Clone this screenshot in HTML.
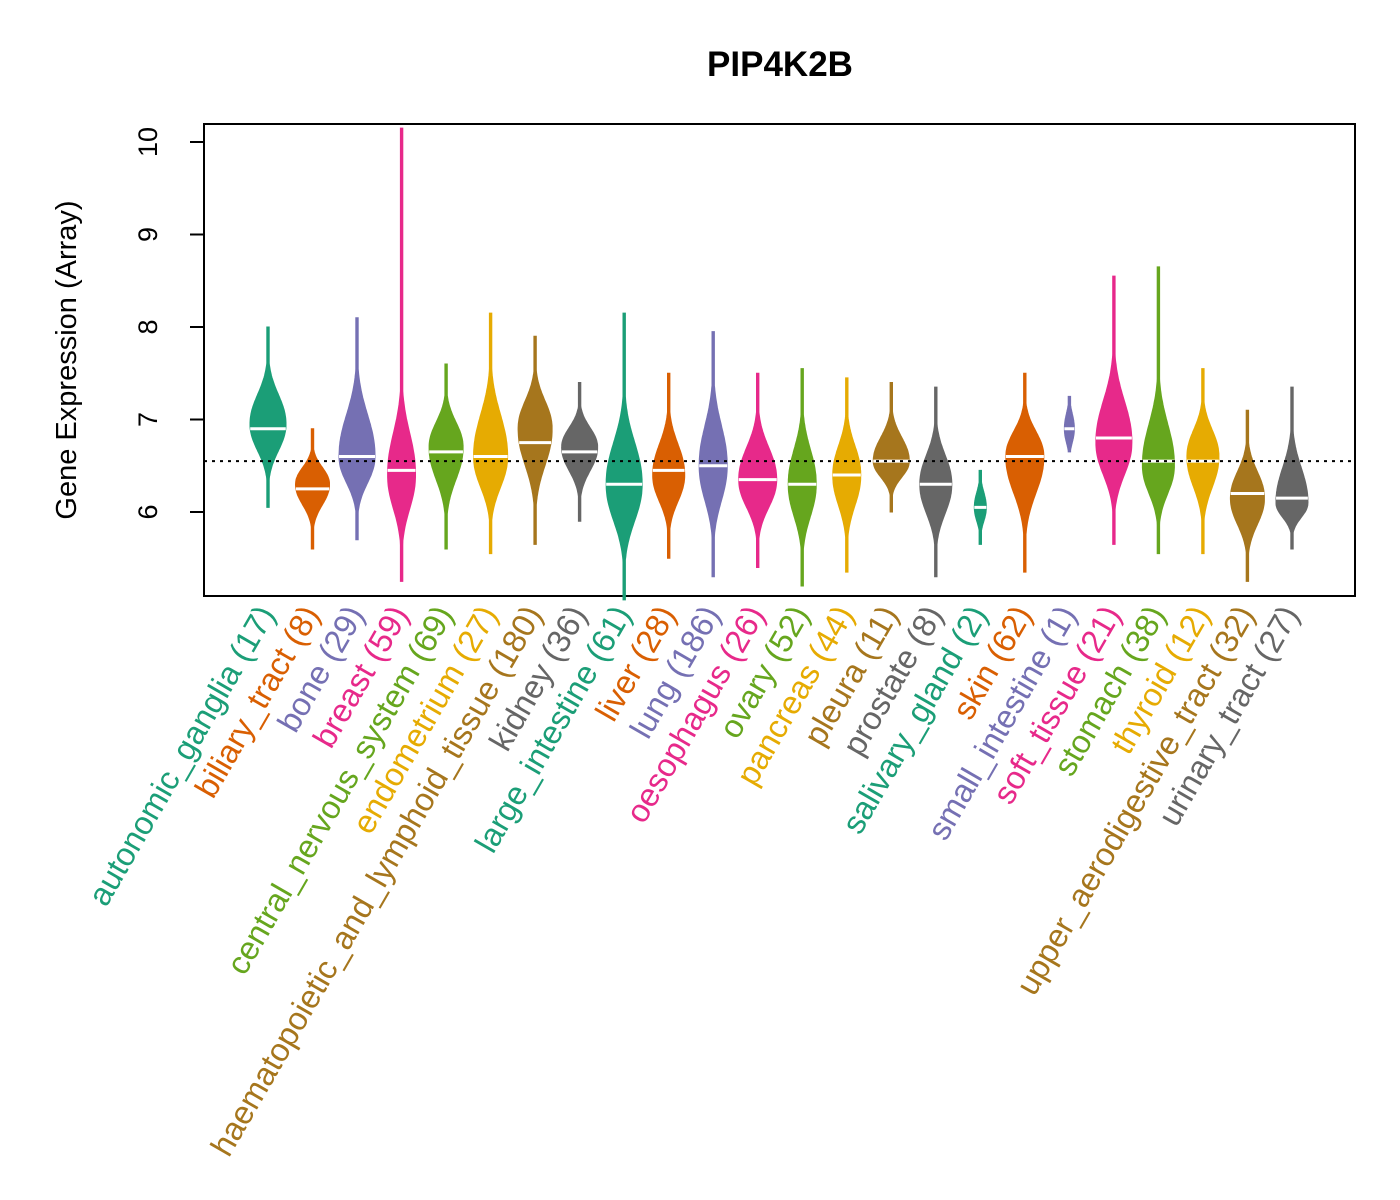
<!DOCTYPE html>
<html><head><meta charset="utf-8"><style>
html,body{margin:0;padding:0;background:#fff;}
svg{display:block;font-family:"Liberation Sans",Arial,sans-serif;}
</style></head><body>
<svg id="chart" width="1400" height="1200" viewBox="0 0 1400 1200">
<text x="780" y="76" text-anchor="middle" font-size="35" font-weight="bold">PIP4K2B</text>
<rect x="204" y="124" width="1151" height="472" fill="none" stroke="#000" stroke-width="2"/>
<text transform="translate(76,360) rotate(-90)" text-anchor="middle" font-size="29">Gene Expression (Array)</text>
<g id="yaxis"></g>
<g id="violins"></g>
<g id="xlabels"></g>
</svg>
<script>
const categories=["autonomic_ganglia","biliary_tract","bone","breast","central_nervous_system","endometrium","haematopoietic_and_lymphoid_tissue","kidney","large_intestine","liver","lung","oesophagus","ovary","pancreas","pleura","prostate","salivary_gland","skin","small_intestine","soft_tissue","stomach","thyroid","upper_aerodigestive_tract","urinary_tract"];
const counts=[17,8,29,59,69,27,180,36,61,28,186,26,52,44,11,8,2,62,1,21,38,12,32,27];
const mins=[6.05,5.6,5.7,5.25,5.6,5.55,5.65,5.9,5.05,5.5,5.3,5.4,5.2,5.35,6.0,5.3,5.65,5.35,6.65,5.65,5.55,5.55,5.25,5.6];
const maxs=[8.0,6.9,8.1,10.15,7.6,8.15,7.9,7.4,8.15,7.5,7.95,7.5,7.55,7.45,7.4,7.35,6.45,7.5,7.25,8.55,8.65,7.55,7.1,7.35];
const medians=[6.9,6.25,6.6,6.45,6.65,6.6,6.75,6.65,6.3,6.45,6.5,6.35,6.3,6.4,6.55,6.3,6.05,6.6,6.9,6.8,6.55,6.55,6.2,6.15];
const peaks=[6.95,6.3,6.6,6.4,6.7,6.6,6.9,6.7,6.3,6.4,6.5,6.35,6.3,6.4,6.55,6.3,6.05,6.6,6.9,6.75,6.5,6.6,6.15,6.1];
const widths=[18,17,18,14,17,17,17,18,18,16,14,19,14,14,18,16,6,19,5,18,16,16,17,16];
const yTicks=[6,7,8,9,10];
const refLine=6.55;
const colors=["#1B9E77","#D95F02","#7570B3","#E7298A","#66A61E","#E6AB02","#A6761D","#666666"];
const NS="http://www.w3.org/2000/svg";
const Y=v=>512-(v-6)*92.5;
const X=i=>268+i*44.52;
const yax=document.getElementById('yaxis');
function mk(t,a,p){const e=document.createElementNS(NS,t);for(const k in a)e.setAttribute(k,a[k]);p.appendChild(e);return e;}
mk('line',{x1:204,x2:204,y1:Y(6),y2:Y(10),stroke:'#000','stroke-width':2},yax);
yTicks.forEach(t=>{
 const l=mk('line',{x1:190,x2:204,y1:Y(t),y2:Y(t),stroke:'#000','stroke-width':2},yax);
 
 
 const tx=mk('text',{transform:`translate(157,${Y(t)}) rotate(-90)`,'text-anchor':'middle','font-size':27},yax);
 tx.textContent=t;
 
 
});
const vg=document.getElementById('violins');
const xl=document.getElementById('xlabels');
categories.forEach((c,i)=>{
 const col=colors[i%8],x=X(i);
 const lo=mins[i],hi=maxs[i],pk=peaks[i],w=widths[i];
 const sUp=Math.max(0.22,Math.min(0.6,(hi-pk)*0.4)),sDn=Math.max(0.2,Math.min(0.55,(pk-lo)*0.42));
 const L=[],R=[];
 const n=100;
 for(let k=0;k<=n;k++){
  const v=lo+(hi-lo)*k/n;
  const s=v>pk?sUp:sDn;
  let hw=w*Math.exp(-Math.pow(Math.abs(v-pk)/s,2.2));
  hw=Math.max(hw,1.2);
  R.push([x+hw,Y(v)]);L.push([x-hw,Y(v)]);
 }
 const pts=R.concat(L.reverse()).map(p=>p[0].toFixed(1)+','+p[1].toFixed(1)).join(' ');
 const g=mk('g',{},vg);
 
 
 mk('polygon',{points:pts,fill:col,stroke:col,'stroke-width':1},g);
 const mv=medians[i];
 const s=mv>pk?sUp:sDn;
 const mw=Math.max(w*Math.exp(-Math.pow(Math.abs(mv-pk)/s,2.2)),3);
 const m=mk('line',{x1:x-mw,x2:x+mw,y1:Y(mv),y2:Y(mv),stroke:'#fff','stroke-width':3},g);
 
 
 const t=mk('text',{transform:`translate(${x+8},614) rotate(-60)`,'text-anchor':'end','font-size':32.5,fill:col},xl);
 t.textContent=c+' ('+counts[i]+')';
 
 
});
const rl=mk('line',{x1:204,x2:1355,y1:Y(refLine),y2:Y(refLine),stroke:'#000','stroke-width':2,'stroke-dasharray':'3,5'},document.getElementById('chart'));


</script>
</body></html>
